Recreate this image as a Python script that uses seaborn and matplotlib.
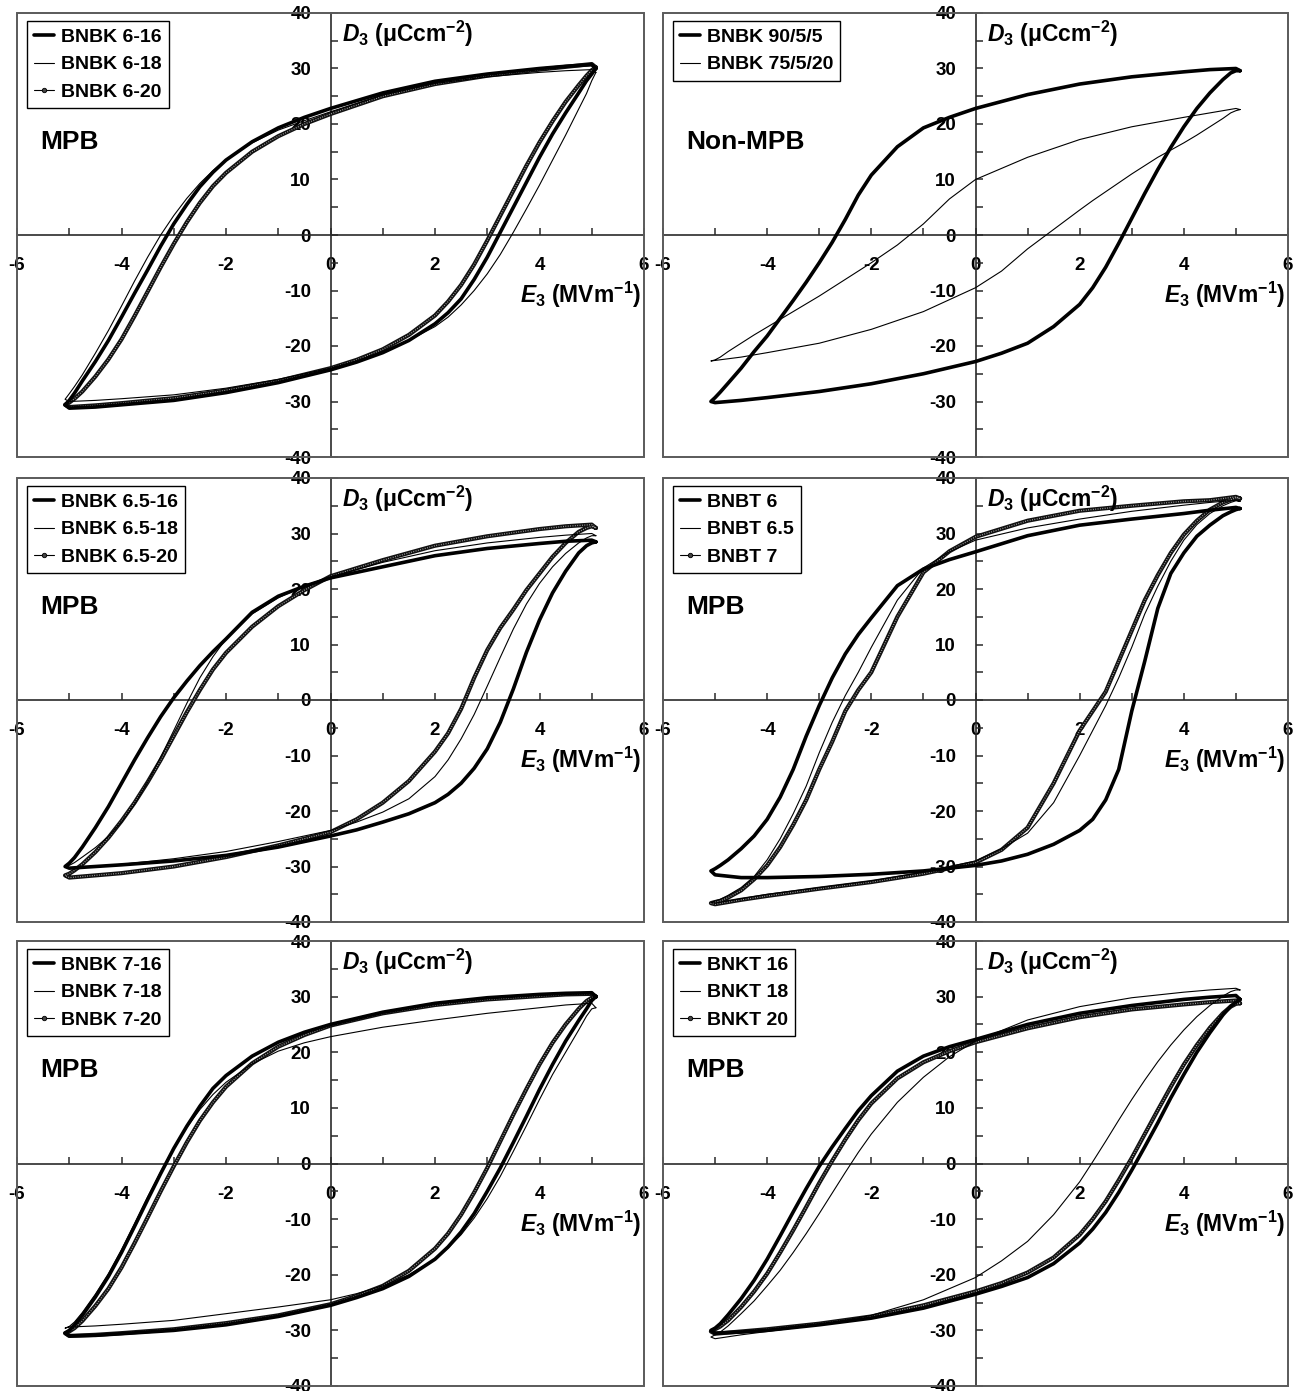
import numpy as np
import matplotlib
matplotlib.use("Agg")
import matplotlib.pyplot as plt
import seaborn as sns
from matplotlib.lines import Line2D
from matplotlib.patches import Rectangle
from matplotlib.ticker import MultipleLocator

sns.set_theme(style="white")
plt.rcParams['font.family'] = ['Liberation Sans', 'DejaVu Sans']
plt.rcParams['font.weight'] = 'bold'
plt.rcParams['text.color'] = 'black'
plt.rcParams['xtick.color'] = 'black'
plt.rcParams['ytick.color'] = 'black'
plt.rcParams['axes.labelcolor'] = 'black'
plt.rcParams['mathtext.fontset'] = 'custom'
plt.rcParams['mathtext.rm'] = 'Liberation Sans:bold'
plt.rcParams['mathtext.it'] = 'Liberation Sans:italic:bold'
plt.rcParams['mathtext.bf'] = 'Liberation Sans:bold'

# ---------------- data (E in MV/m, D in uC/cm2) ----------------
# upper branch: field sweeps from +Emax down to -Emax
UP_E = [5.08, 5.0, 4.5, 4.0, 3.0, 2.0, 1.0, 0.0, -0.5, -1.0, -1.5, -2.0, -2.25, -2.5, -2.75,
        -3.0, -3.25, -3.5, -3.75, -4.0, -4.25, -4.5, -4.75, -4.9, -5.0, -5.08]
# lower branch: field sweeps from -Emax up to +Emax
LO_E = [-5.08, -5.0, -4.5, -4.0, -3.0, -2.0, -1.0, 0.0, 0.5, 1.0, 1.5, 2.0, 2.25, 2.5, 2.75,
        3.0, 3.25, 3.5, 3.75, 4.0, 4.25, 4.5, 4.75, 4.9, 5.0, 5.08]

# panel 1
BNBK_6_16_UP = [30.0, 30.7, 30.4, 30.0, 29.0, 27.7, 25.6, 22.8, 21.2, 19.3, 16.8, 13.5, 11.3, 8.7, 5.5, 2.0, -2.0, -6.3, -10.5, -14.8, -19.0, -22.8, -26.3, -28.5, -29.8, -30.6]
BNBK_6_16_LO = [-30.6, -31.2, -31.0, -30.6, -29.8, -28.4, -26.6, -24.3, -22.9, -21.2, -19.0, -16.0, -14.0, -11.5, -8.0, -4.0, 0.5, 5.0, 9.5, 14.0, 18.2, 22.0, 25.6, 27.8, 29.0, 30.0]
BNBK_6_18_UP = [29.3, 29.8, 29.6, 29.3, 28.5, 27.3, 25.2, 22.2, 20.6, 18.9, 16.6, 13.6, 11.6, 9.3, 6.6, 3.5, 0.0, -4.0, -8.3, -12.8, -17.2, -21.3, -25.2, -27.3, -28.6, -29.6]
BNBK_6_18_LO = [-29.6, -30.0, -29.8, -29.5, -28.8, -27.6, -26.0, -24.0, -22.7, -21.0, -19.0, -16.5, -14.8, -12.6, -10.0, -7.0, -3.5, 0.5, 4.7, 9.0, 13.5, 18.0, 22.7, 25.5, 27.8, 29.3]
BNBK_6_20_UP = [30.2, 30.8, 30.3, 29.8, 28.7, 27.2, 25.0, 21.8, 20.0, 17.8, 15.0, 11.2, 8.8, 5.8, 2.3, -1.6, -5.8, -10.2, -14.6, -18.8, -22.4, -25.5, -28.2, -29.5, -30.2, -30.6]
BNBK_6_20_LO = [-30.6, -31.0, -30.7, -30.3, -29.4, -28.0, -26.3, -24.0, -22.5, -20.6, -18.0, -14.5, -12.0, -9.0, -5.3, -1.0, 3.5, 8.0, 12.5, 16.7, 20.5, 24.0, 27.0, 28.7, 29.7, 30.2]

# panel 2
BNBK_90_UP = [29.6, 30.0, 29.8, 29.4, 28.5, 27.2, 25.3, 22.8, 21.2, 19.3, 15.9, 10.8, 7.2, 2.8, -1.3, -5.0, -8.5, -11.8, -15.0, -18.2, -21.0, -24.0, -26.7, -28.3, -29.3, -30.0]
BNBK_90_LO = [-30.0, -30.2, -29.8, -29.3, -28.2, -26.8, -25.0, -22.8, -21.3, -19.5, -16.5, -12.5, -9.5, -5.8, -1.5, 3.0, 7.5, 11.8, 15.8, 19.5, 22.8, 25.6, 28.0, 29.2, 29.6, 29.6]
BNBK_75_UP = [22.6, 22.8, 22.0, 21.2, 19.5, 17.2, 14.0, 10.0, 6.5, 2.0, -1.8, -5.0, -6.5, -8.0, -9.5, -11.0, -12.4, -13.8, -15.2, -16.6, -18.0, -19.5, -21.0, -22.0, -22.5, -22.7]
BNBK_75_LO = [-22.7, -22.6, -22.0, -21.2, -19.5, -17.0, -13.8, -9.5, -6.5, -2.5, 1.0, 4.5, 6.2, 7.8, 9.4, 11.0, 12.5, 14.0, 15.3, 16.6, 18.0, 19.5, 21.0, 22.0, 22.4, 22.6]

# panel 3
BNBK_65_16_UP = [28.5, 28.8, 28.6, 28.2, 27.3, 26.0, 24.0, 22.0, 20.5, 18.7, 15.8, 11.0, 8.7, 6.2, 3.4, 0.4, -3.0, -6.8, -10.8, -15.0, -19.2, -23.0, -26.5, -28.4, -29.4, -30.0]
BNBK_65_16_LO = [-30.0, -30.3, -30.0, -29.7, -29.0, -28.0, -26.5, -24.5, -23.4, -22.0, -20.5, -18.5, -17.0, -15.0, -12.3, -8.8, -4.0, 2.0, 8.6, 14.4, 19.3, 23.2, 26.5, 27.8, 28.3, 28.5]
BNBK_65_18_UP = [29.6, 30.0, 29.7, 29.3, 28.3, 26.9, 24.8, 22.2, 20.6, 18.4, 15.5, 11.0, 7.8, 4.0, -0.6, -5.5, -10.3, -14.8, -18.8, -22.0, -24.6, -26.6, -28.3, -29.3, -29.8, -30.0]
BNBK_65_18_LO = [-30.0, -30.3, -30.0, -29.6, -28.6, -27.3, -25.5, -23.5, -22.0, -20.2, -17.8, -13.8, -10.8, -7.0, -2.6, 2.5, 7.7, 12.8, 17.3, 21.0, 24.0, 26.4, 28.3, 29.2, 29.6, 29.6]
BNBK_65_20_UP = [31.0, 31.6, 31.3, 30.8, 29.5, 27.8, 25.2, 22.3, 19.8, 16.9, 13.2, 8.5, 5.5, 1.8, -2.2, -6.5, -10.8, -14.8, -18.5, -21.8, -24.8, -27.4, -29.6, -30.7, -31.3, -31.6]
BNBK_65_20_LO = [-31.6, -32.0, -31.6, -31.2, -30.0, -28.3, -26.2, -23.8, -21.5, -18.5, -14.6, -9.3, -6.0, -1.6, 4.0, 9.0, 13.0, 16.3, 19.8, 22.8, 25.8, 28.3, 30.3, 31.0, 31.3, 31.0]

# panel 4
BNBT_6_UP = [34.5, 34.7, 34.2, 33.6, 32.6, 31.5, 29.6, 26.7, 25.3, 23.6, 20.6, 14.8, 11.8, 8.3, 4.0, -1.0, -6.5, -12.5, -17.5, -21.5, -24.5, -26.8, -28.8, -29.8, -30.4, -30.8]
BNBT_6_LO = [-30.8, -31.5, -32.0, -32.0, -31.8, -31.4, -30.8, -29.8, -29.0, -27.8, -26.0, -23.5, -21.5, -18.0, -12.5, -2.0, 7.0, 16.5, 22.8, 26.5, 29.5, 31.5, 33.2, 33.9, 34.3, 34.5]
BNBT_65_UP = [35.8, 36.0, 35.6, 35.1, 34.0, 32.6, 31.0, 28.8, 26.7, 23.8, 18.0, 9.5, 5.0, 0.8, -4.0, -9.5, -15.5, -20.5, -25.0, -28.8, -31.8, -33.8, -35.2, -35.9, -36.2, -36.5]
BNBT_65_LO = [-36.5, -36.6, -35.8, -35.0, -33.8, -32.6, -31.0, -29.0, -26.8, -24.0, -18.5, -10.0, -5.5, -1.0, 4.0, 9.5, 15.5, 20.5, 25.0, 28.8, 31.6, 33.6, 35.0, 35.6, 35.9, 35.8]
BNBT_7_UP = [36.3, 36.6, 36.0, 35.8, 35.0, 34.1, 32.3, 29.4, 26.8, 23.0, 15.0, 5.0, 1.8, -2.0, -7.5, -12.5, -18.0, -22.5, -26.5, -29.8, -32.3, -34.3, -35.6, -36.2, -36.4, -36.6]
BNBT_7_LO = [-36.6, -36.8, -36.0, -35.3, -34.0, -32.8, -31.3, -29.3, -27.0, -23.0, -15.0, -5.5, -2.0, 1.5, 7.0, 12.5, 18.0, 22.5, 26.5, 29.8, 32.3, 34.3, 35.6, 36.1, 36.4, 36.3]

# panel 5
BNBK_7_16_UP = [30.0, 30.7, 30.6, 30.4, 29.8, 28.8, 27.2, 25.0, 23.6, 21.8, 19.3, 15.8, 13.5, 10.3, 6.7, 2.7, -1.8, -6.5, -11.3, -16.0, -20.3, -24.0, -27.3, -29.0, -30.0, -30.5]
BNBK_7_16_LO = [-30.5, -31.0, -30.9, -30.6, -30.0, -29.0, -27.5, -25.5, -24.1, -22.5, -20.3, -17.2, -15.0, -12.3, -9.0, -5.0, -0.8, 3.8, 8.5, 13.3, 17.8, 22.0, 25.7, 27.8, 29.3, 30.0]
BNBK_7_18_UP = [28.0, 28.8, 28.5, 28.0, 27.0, 25.8, 24.5, 22.8, 21.7, 20.2, 17.9, 14.6, 12.4, 9.7, 6.5, 2.8, -1.5, -6.0, -10.8, -15.5, -19.8, -23.5, -26.8, -28.5, -29.3, -29.6]
BNBK_7_18_LO = [-29.6, -29.4, -29.2, -28.9, -28.2, -27.0, -25.8, -24.5, -23.4, -22.0, -20.0, -17.2, -15.2, -12.8, -9.8, -6.3, -2.3, 2.2, 6.8, 11.5, 16.0, 20.0, 24.0, 26.5, 27.8, 28.0]
BNBK_7_20_UP = [30.0, 30.5, 30.4, 30.1, 29.5, 28.5, 27.0, 24.8, 23.1, 21.0, 18.0, 13.8, 11.0, 7.7, 3.8, -0.5, -5.0, -9.7, -14.3, -18.7, -22.5, -25.6, -28.3, -29.6, -30.2, -30.5]
BNBK_7_20_LO = [-30.5, -31.0, -30.8, -30.5, -29.8, -28.7, -27.3, -25.3, -23.8, -22.0, -19.3, -15.3, -12.6, -9.2, -5.2, -0.8, 4.0, 8.8, 13.4, 17.8, 21.7, 25.0, 27.8, 29.2, 29.8, 30.0]

# panel 6
BNKT_16_UP = [29.5, 30.2, 29.9, 29.5, 28.4, 27.0, 25.0, 22.3, 21.0, 19.3, 16.6, 12.2, 9.5, 6.3, 3.0, -0.5, -4.5, -8.7, -13.0, -17.2, -21.0, -24.3, -27.2, -28.8, -29.6, -30.0]
BNKT_16_LO = [-30.0, -30.5, -30.3, -30.0, -29.0, -27.8, -26.0, -23.5, -22.1, -20.5, -18.0, -14.3, -11.8, -8.8, -5.2, -1.2, 3.0, 7.3, 11.8, 16.0, 20.0, 23.5, 26.7, 28.3, 29.0, 29.5]
BNKT_18_UP = [31.2, 31.5, 31.2, 30.8, 29.8, 28.2, 25.8, 22.0, 19.2, 15.5, 11.0, 5.3, 2.0, -1.6, -5.3, -9.0, -12.6, -16.0, -19.2, -22.0, -24.7, -27.0, -29.2, -30.3, -30.8, -31.2]
BNKT_18_LO = [-31.2, -31.5, -30.8, -30.2, -29.0, -27.3, -24.5, -20.5, -17.5, -14.0, -9.2, -3.3, 0.3, 4.0, 7.8, 11.5, 15.0, 18.3, 21.3, 24.0, 26.4, 28.4, 30.1, 30.9, 31.2, 31.2]
BNKT_20_UP = [28.8, 29.3, 29.0, 28.6, 27.7, 26.3, 24.3, 21.8, 20.2, 18.2, 15.3, 10.8, 7.8, 4.3, 0.5, -3.5, -7.8, -12.0, -16.0, -19.8, -23.0, -25.8, -28.2, -29.3, -29.8, -30.2]
BNKT_20_LO = [-30.2, -30.6, -30.2, -29.8, -28.8, -27.5, -25.5, -23.0, -21.5, -19.6, -16.9, -12.8, -10.0, -6.8, -3.0, 1.0, 5.3, 9.6, 13.8, 17.8, 21.3, 24.4, 27.0, 28.2, 28.7, 28.8]

PANEL_LABELS = [
    ["BNBK 6-16", "BNBK 6-18", "BNBK 6-20"],
    ["BNBK 90/5/5", "BNBK 75/5/20"],
    ["BNBK 6.5-16", "BNBK 6.5-18", "BNBK 6.5-20"],
    ["BNBT 6", "BNBT 6.5", "BNBT 7"],
    ["BNBK 7-16", "BNBK 7-18", "BNBK 7-20"],
    ["BNKT 16", "BNKT 18", "BNKT 20"],
]
PANEL_TEXT = ["MPB", "Non-MPB", "MPB", "MPB", "MPB", "MPB"]
PANEL_CURVES = [
    [(BNBK_6_16_UP, BNBK_6_16_LO), (BNBK_6_18_UP, BNBK_6_18_LO), (BNBK_6_20_UP, BNBK_6_20_LO)],
    [(BNBK_90_UP, BNBK_90_LO), (BNBK_75_UP, BNBK_75_LO)],
    [(BNBK_65_16_UP, BNBK_65_16_LO), (BNBK_65_18_UP, BNBK_65_18_LO), (BNBK_65_20_UP, BNBK_65_20_LO)],
    [(BNBT_6_UP, BNBT_6_LO), (BNBT_65_UP, BNBT_65_LO), (BNBT_7_UP, BNBT_7_LO)],
    [(BNBK_7_16_UP, BNBK_7_16_LO), (BNBK_7_18_UP, BNBK_7_18_LO), (BNBK_7_20_UP, BNBK_7_20_LO)],
    [(BNKT_16_UP, BNKT_16_LO), (BNKT_18_UP, BNKT_18_LO), (BNKT_20_UP, BNKT_20_LO)],
]
STYLES = ["thick", "thin", "beaded"]

# ---------------- layout ----------------
W, H = 1298, 1391
fig = plt.figure(figsize=(W / 100, H / 100), dpi=100)
COL_X = [(17, 644), (663, 1288)]
ROW_Y = [(13, 457), (478, 922), (941, 1386)]

SPINE_C = '#2a2a2a'
FRAME_C = '#5a5a5a'


def draw_loop(ax, up, lo, style):
    n = min(len(UP_E), len(up))
    m = min(len(LO_E), len(lo))
    e = np.array(UP_E[:n] + LO_E[1:m])
    d = np.array(up[:n] + lo[1:m])
    if style == "thick":
        sns.lineplot(x=e, y=d, sort=False, estimator=None, ax=ax, color='black',
                     linewidth=2.6, zorder=4, solid_joinstyle='round', solid_capstyle='round')
    elif style == "thin":
        sns.lineplot(x=e, y=d, sort=False, estimator=None, ax=ax, color='black',
                     linewidth=0.8, zorder=5, solid_joinstyle='round')
    else:
        sns.lineplot(x=e, y=d, sort=False, estimator=None, ax=ax, color='#111111',
                     linewidth=3.0, zorder=3, solid_joinstyle='round', solid_capstyle='round')
        ax.plot(e, d, color='#a8a8a8', linewidth=0.9, linestyle=(0, (0.7, 1.2)), zorder=3.5)


def handle(style):
    if style == "thick":
        return Line2D([], [], color='black', lw=2.6)
    if style == "thin":
        return Line2D([], [], color='black', lw=0.8)
    return Line2D([], [], color='black', lw=0.8, marker='o', markersize=3.2,
                  markerfacecolor='#444', markeredgecolor='black', markeredgewidth=0.6)


for i in range(6):
    r, c = divmod(i, 2)
    x0, x1 = COL_X[c]
    y0, y1 = ROW_Y[r]
    ax = fig.add_axes([x0 / W, (H - y1) / H, (x1 - x0) / W, (y1 - y0) / H])
    ax.set_xlim(-6, 6)
    ax.set_ylim(-40, 40)
    ax.set_facecolor('white')
    for sp in ['top', 'right']:
        ax.spines[sp].set_visible(False)
    ax.spines['left'].set_position(('data', 0))
    ax.spines['bottom'].set_position(('data', 0))
    for sp in ['left', 'bottom']:
        ax.spines[sp].set_color(SPINE_C)
        ax.spines[sp].set_linewidth(1.2)
        ax.spines[sp].set_visible(True)
    ax.add_patch(Rectangle((0, 0), 1, 1, transform=ax.transAxes, fill=False,
                           edgecolor=FRAME_C, lw=1.4, clip_on=False, zorder=6))

    ax.xaxis.set_major_locator(MultipleLocator(2))
    ax.xaxis.set_minor_locator(MultipleLocator(1))
    ax.yaxis.set_major_locator(MultipleLocator(10))
    ax.yaxis.set_minor_locator(MultipleLocator(5))
    ax.tick_params(which='both', direction='in', length=5, width=1.1, color=SPINE_C,
                   bottom=True, left=True, top=False, right=False)
    ax.tick_params(axis='x', which='major', labelsize=13.5, pad=16, labelcolor='black')
    ax.tick_params(axis='y', which='major', labelsize=13.5, pad=14, labelcolor='black')
    ax.set_xticks([-6, -4, -2, 0, 2, 4, 6])
    ax.set_xticklabels(['-6', '-4', '-2', '0', '2', '4', '6'], fontweight='bold')
    ax.set_yticks([-40, -30, -20, -10, 0, 10, 20, 30, 40])
    ax.set_yticklabels(['-40', '-30', '-20', '-10', '0', '10', '20', '30', '40'], fontweight='bold')
    for lab in ax.get_xticklabels() + ax.get_yticklabels():
        lab.set_clip_on(False)
    ax.grid(False)
    ax.set_xlabel('')
    ax.set_ylabel('')

    for (up, lo), st in zip(PANEL_CURVES[i], STYLES):
        draw_loop(ax, up, lo, st)

    hs = [handle(st) for st in STYLES[:len(PANEL_LABELS[i])]]
    leg = ax.legend(hs, PANEL_LABELS[i], loc='upper left', bbox_to_anchor=(0.016, 0.982),
                    borderaxespad=0, frameon=True, fancybox=False,
                    framealpha=1, edgecolor='black', handlelength=1.0, handletextpad=0.35,
                    labelspacing=0.5, borderpad=0.38, prop={'weight': 'bold', 'size': 14})
    leg.get_frame().set_linewidth(1.0)
    leg.set_zorder(7)
    for t in leg.get_texts():
        t.set_color('black')

    ax.text(-5.56, 16.8, PANEL_TEXT[i], fontsize=19, fontweight='bold', ha='left', va='center')
    ax.text(0.22, 36.2, r'$\it{D}_{3}$ ($\mathrm{\mu}$Ccm$^{-2}$)', fontsize=16.5,
            fontweight='bold', ha='left', va='center', zorder=7)
    ax.text(5.95, -10.8, r'$\it{E}_{3}$ (MVm$^{-1}$)', fontsize=16.5, fontweight='bold',
            ha='right', va='center', zorder=7)

fig.savefig('out.png', dpi=100, facecolor='white')
